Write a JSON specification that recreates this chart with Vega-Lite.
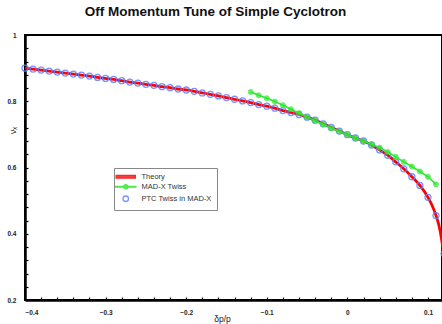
{
  "$schema": "https://vega.github.io/schema/vega-lite/v6.json",
  "width": 417,
  "height": 265,
  "autosize": {"type": "none"},
  "padding": {"left": 25, "top": 35, "right": 0, "bottom": 24},
  "background": "white",
  "title": {"text": "Off Momentum Tune of Simple Cyclotron", "font": "Liberation Sans", "fontSize": 13.5, "fontWeight": "bold", "color": "#111", "anchor": "middle", "frame": "group", "dx": -18, "offset": 14},
  "datasets": {
    "theory": [
      {"dp": -0.40, "nu": 0.900, "series": "Theory"},
      {"dp": -0.39, "nu": 0.897, "series": "Theory"},
      {"dp": -0.38, "nu": 0.894, "series": "Theory"},
      {"dp": -0.37, "nu": 0.891, "series": "Theory"},
      {"dp": -0.36, "nu": 0.888, "series": "Theory"},
      {"dp": -0.35, "nu": 0.885, "series": "Theory"},
      {"dp": -0.34, "nu": 0.882, "series": "Theory"},
      {"dp": -0.33, "nu": 0.879, "series": "Theory"},
      {"dp": -0.32, "nu": 0.876, "series": "Theory"},
      {"dp": -0.31, "nu": 0.872, "series": "Theory"},
      {"dp": -0.30, "nu": 0.869, "series": "Theory"},
      {"dp": -0.29, "nu": 0.866, "series": "Theory"},
      {"dp": -0.28, "nu": 0.862, "series": "Theory"},
      {"dp": -0.27, "nu": 0.858, "series": "Theory"},
      {"dp": -0.26, "nu": 0.855, "series": "Theory"},
      {"dp": -0.25, "nu": 0.851, "series": "Theory"},
      {"dp": -0.24, "nu": 0.848, "series": "Theory"},
      {"dp": -0.23, "nu": 0.844, "series": "Theory"},
      {"dp": -0.22, "nu": 0.841, "series": "Theory"},
      {"dp": -0.21, "nu": 0.837, "series": "Theory"},
      {"dp": -0.20, "nu": 0.834, "series": "Theory"},
      {"dp": -0.19, "nu": 0.830, "series": "Theory"},
      {"dp": -0.18, "nu": 0.825, "series": "Theory"},
      {"dp": -0.17, "nu": 0.821, "series": "Theory"},
      {"dp": -0.16, "nu": 0.816, "series": "Theory"},
      {"dp": -0.15, "nu": 0.811, "series": "Theory"},
      {"dp": -0.14, "nu": 0.806, "series": "Theory"},
      {"dp": -0.13, "nu": 0.801, "series": "Theory"},
      {"dp": -0.12, "nu": 0.796, "series": "Theory"},
      {"dp": -0.11, "nu": 0.790, "series": "Theory"},
      {"dp": -0.10, "nu": 0.785, "series": "Theory"},
      {"dp": -0.09, "nu": 0.779, "series": "Theory"},
      {"dp": -0.08, "nu": 0.772, "series": "Theory"},
      {"dp": -0.07, "nu": 0.766, "series": "Theory"},
      {"dp": -0.06, "nu": 0.760, "series": "Theory"},
      {"dp": -0.05, "nu": 0.752, "series": "Theory"},
      {"dp": -0.04, "nu": 0.743, "series": "Theory"},
      {"dp": -0.03, "nu": 0.732, "series": "Theory"},
      {"dp": -0.02, "nu": 0.721, "series": "Theory"},
      {"dp": -0.01, "nu": 0.710, "series": "Theory"},
      {"dp": 0.00, "nu": 0.699, "series": "Theory"},
      {"dp": 0.01, "nu": 0.689, "series": "Theory"},
      {"dp": 0.02, "nu": 0.680, "series": "Theory"},
      {"dp": 0.03, "nu": 0.668, "series": "Theory"},
      {"dp": 0.04, "nu": 0.653, "series": "Theory"},
      {"dp": 0.05, "nu": 0.637, "series": "Theory"},
      {"dp": 0.06, "nu": 0.617, "series": "Theory"},
      {"dp": 0.07, "nu": 0.596, "series": "Theory"},
      {"dp": 0.08, "nu": 0.572, "series": "Theory"},
      {"dp": 0.09, "nu": 0.546, "series": "Theory"},
      {"dp": 0.10, "nu": 0.510, "series": "Theory"},
      {"dp": 0.105, "nu": 0.486, "series": "Theory"},
      {"dp": 0.11, "nu": 0.455, "series": "Theory"},
      {"dp": 0.115, "nu": 0.410, "series": "Theory"},
      {"dp": 0.12, "nu": 0.330, "series": "Theory"}
    ],
    "ptc": [
      {"dp": -0.40, "nu": 0.900, "series": "PTC Twiss in MAD-X"},
      {"dp": -0.39, "nu": 0.897, "series": "PTC Twiss in MAD-X"},
      {"dp": -0.38, "nu": 0.894, "series": "PTC Twiss in MAD-X"},
      {"dp": -0.37, "nu": 0.891, "series": "PTC Twiss in MAD-X"},
      {"dp": -0.36, "nu": 0.888, "series": "PTC Twiss in MAD-X"},
      {"dp": -0.35, "nu": 0.885, "series": "PTC Twiss in MAD-X"},
      {"dp": -0.34, "nu": 0.882, "series": "PTC Twiss in MAD-X"},
      {"dp": -0.33, "nu": 0.879, "series": "PTC Twiss in MAD-X"},
      {"dp": -0.32, "nu": 0.876, "series": "PTC Twiss in MAD-X"},
      {"dp": -0.31, "nu": 0.872, "series": "PTC Twiss in MAD-X"},
      {"dp": -0.30, "nu": 0.869, "series": "PTC Twiss in MAD-X"},
      {"dp": -0.29, "nu": 0.866, "series": "PTC Twiss in MAD-X"},
      {"dp": -0.28, "nu": 0.862, "series": "PTC Twiss in MAD-X"},
      {"dp": -0.27, "nu": 0.858, "series": "PTC Twiss in MAD-X"},
      {"dp": -0.26, "nu": 0.855, "series": "PTC Twiss in MAD-X"},
      {"dp": -0.25, "nu": 0.851, "series": "PTC Twiss in MAD-X"},
      {"dp": -0.24, "nu": 0.848, "series": "PTC Twiss in MAD-X"},
      {"dp": -0.23, "nu": 0.844, "series": "PTC Twiss in MAD-X"},
      {"dp": -0.22, "nu": 0.841, "series": "PTC Twiss in MAD-X"},
      {"dp": -0.21, "nu": 0.837, "series": "PTC Twiss in MAD-X"},
      {"dp": -0.20, "nu": 0.834, "series": "PTC Twiss in MAD-X"},
      {"dp": -0.19, "nu": 0.830, "series": "PTC Twiss in MAD-X"},
      {"dp": -0.18, "nu": 0.825, "series": "PTC Twiss in MAD-X"},
      {"dp": -0.17, "nu": 0.821, "series": "PTC Twiss in MAD-X"},
      {"dp": -0.16, "nu": 0.816, "series": "PTC Twiss in MAD-X"},
      {"dp": -0.15, "nu": 0.811, "series": "PTC Twiss in MAD-X"},
      {"dp": -0.14, "nu": 0.806, "series": "PTC Twiss in MAD-X"},
      {"dp": -0.13, "nu": 0.801, "series": "PTC Twiss in MAD-X"},
      {"dp": -0.12, "nu": 0.796, "series": "PTC Twiss in MAD-X"},
      {"dp": -0.11, "nu": 0.790, "series": "PTC Twiss in MAD-X"},
      {"dp": -0.10, "nu": 0.785, "series": "PTC Twiss in MAD-X"},
      {"dp": -0.09, "nu": 0.779, "series": "PTC Twiss in MAD-X"},
      {"dp": -0.08, "nu": 0.772, "series": "PTC Twiss in MAD-X"},
      {"dp": -0.07, "nu": 0.766, "series": "PTC Twiss in MAD-X"},
      {"dp": -0.06, "nu": 0.760, "series": "PTC Twiss in MAD-X"},
      {"dp": -0.05, "nu": 0.752, "series": "PTC Twiss in MAD-X"},
      {"dp": -0.04, "nu": 0.743, "series": "PTC Twiss in MAD-X"},
      {"dp": -0.03, "nu": 0.732, "series": "PTC Twiss in MAD-X"},
      {"dp": -0.02, "nu": 0.721, "series": "PTC Twiss in MAD-X"},
      {"dp": -0.01, "nu": 0.710, "series": "PTC Twiss in MAD-X"},
      {"dp": 0.00, "nu": 0.699, "series": "PTC Twiss in MAD-X"},
      {"dp": 0.01, "nu": 0.689, "series": "PTC Twiss in MAD-X"},
      {"dp": 0.02, "nu": 0.680, "series": "PTC Twiss in MAD-X"},
      {"dp": 0.03, "nu": 0.668, "series": "PTC Twiss in MAD-X"},
      {"dp": 0.04, "nu": 0.653, "series": "PTC Twiss in MAD-X"},
      {"dp": 0.05, "nu": 0.637, "series": "PTC Twiss in MAD-X"},
      {"dp": 0.06, "nu": 0.617, "series": "PTC Twiss in MAD-X"},
      {"dp": 0.07, "nu": 0.596, "series": "PTC Twiss in MAD-X"},
      {"dp": 0.08, "nu": 0.572, "series": "PTC Twiss in MAD-X"},
      {"dp": 0.09, "nu": 0.546, "series": "PTC Twiss in MAD-X"},
      {"dp": 0.10, "nu": 0.510, "series": "PTC Twiss in MAD-X"},
      {"dp": 0.11, "nu": 0.455, "series": "PTC Twiss in MAD-X"},
      {"dp": 0.12, "nu": 0.340, "series": "PTC Twiss in MAD-X"}
    ],
    "madx": [
      {"dp": -0.12, "nu": 0.828, "series": "MAD-X Twiss"},
      {"dp": -0.11, "nu": 0.818, "series": "MAD-X Twiss"},
      {"dp": -0.10, "nu": 0.809, "series": "MAD-X Twiss"},
      {"dp": -0.09, "nu": 0.799, "series": "MAD-X Twiss"},
      {"dp": -0.08, "nu": 0.788, "series": "MAD-X Twiss"},
      {"dp": -0.07, "nu": 0.776, "series": "MAD-X Twiss"},
      {"dp": -0.06, "nu": 0.764, "series": "MAD-X Twiss"},
      {"dp": -0.05, "nu": 0.752, "series": "MAD-X Twiss"},
      {"dp": -0.04, "nu": 0.741, "series": "MAD-X Twiss"},
      {"dp": -0.03, "nu": 0.730, "series": "MAD-X Twiss"},
      {"dp": -0.02, "nu": 0.719, "series": "MAD-X Twiss"},
      {"dp": -0.01, "nu": 0.709, "series": "MAD-X Twiss"},
      {"dp": 0.00, "nu": 0.699, "series": "MAD-X Twiss"},
      {"dp": 0.01, "nu": 0.689, "series": "MAD-X Twiss"},
      {"dp": 0.02, "nu": 0.679, "series": "MAD-X Twiss"},
      {"dp": 0.03, "nu": 0.670, "series": "MAD-X Twiss"},
      {"dp": 0.04, "nu": 0.660, "series": "MAD-X Twiss"},
      {"dp": 0.05, "nu": 0.647, "series": "MAD-X Twiss"},
      {"dp": 0.06, "nu": 0.632, "series": "MAD-X Twiss"},
      {"dp": 0.07, "nu": 0.617, "series": "MAD-X Twiss"},
      {"dp": 0.08, "nu": 0.603, "series": "MAD-X Twiss"},
      {"dp": 0.09, "nu": 0.588, "series": "MAD-X Twiss"},
      {"dp": 0.10, "nu": 0.572, "series": "MAD-X Twiss"},
      {"dp": 0.11, "nu": 0.549, "series": "MAD-X Twiss"}
    ]
  },
  "encoding": {
    "x": {
      "field": "dp", "type": "quantitative",
      "scale": {"domain": [-0.4, 0.1174], "nice": false, "zero": false},
      "axis": {
        "values": [-0.4, -0.38, -0.36, -0.34, -0.32, -0.3, -0.28, -0.26, -0.24, -0.22, -0.2, -0.18, -0.16, -0.14, -0.12, -0.1, -0.08, -0.06, -0.04, -0.02, 0, 0.02, 0.04, 0.06, 0.08, 0.1],
        "labelExpr": "abs(datum.value*10 - round(datum.value*10)) < 0.001 ? format(datum.value, '~g') : ''",
        "labelOverlap": false,
        "labelPadding": 12,
        "title": "δp/p",
        "titleFontSize": 8.5,
        "titleX": 197,
        "titleY": 21,
        "titleBaseline": "alphabetic",
        "titleAlign": "center"
      }
    },
    "y": {
      "field": "nu", "type": "quantitative",
      "scale": {"domain": [0.2, 1], "nice": false, "zero": false},
      "axis": {
        "values": [0.2, 0.24, 0.28, 0.32, 0.36, 0.4, 0.44, 0.48, 0.52, 0.56, 0.6, 0.64, 0.68, 0.72, 0.76, 0.8, 0.84, 0.88, 0.92, 0.96, 1],
        "labelExpr": "abs(datum.value*5 - round(datum.value*5)) < 0.001 ? format(datum.value, '~g') : ''",
        "labelOverlap": false,
        "labelPadding": 12,
        "title": "νₓ",
        "titleFontSize": 8.5,
        "titleAngle": -90,
        "titleX": -13,
        "titleY": 95,
        "titleAlign": "center",
        "titleBaseline": "middle"
      }
    }
  },
  "layer": [
    {
      "data": {"name": "theory"},
      "mark": {"type": "line", "strokeWidth": 2.8, "interpolate": "monotone"},
      "encoding": {
        "stroke": {
          "field": "series", "type": "nominal",
          "scale": {"domain": ["Theory", "MAD-X Twiss", "PTC Twiss in MAD-X"], "range": ["#ff0000", "#2ee82e", "#5f82ff"]},
          "legend": {"title": null, "orient": "none", "legendX": 89, "legendY": 133}
        }
      }
    },
    {
      "data": {"name": "ptc"},
      "mark": {"type": "point", "size": 36, "strokeWidth": 1.3, "opacity": 0.85},
      "encoding": {
        "stroke": {"field": "series", "type": "nominal"},
        "fill": {
          "field": "series", "type": "nominal",
          "scale": {"domain": ["Theory", "MAD-X Twiss", "PTC Twiss in MAD-X"], "range": ["#ff0000", "#2ee82e", "transparent"]}
        },
        "shape": {
          "field": "series", "type": "nominal",
          "scale": {"domain": ["Theory", "MAD-X Twiss", "PTC Twiss in MAD-X"], "range": ["M-3.5,-0.45H3.5V0.45H-3.5Z", "M-3.7,-0.15H3.7V0.15H-3.7Z M-0.75,0A0.75,0.75 0 1,0 0.75,0A0.75,0.75 0 1,0 -0.75,0Z", "circle"]}
        }
      }
    },
    {
      "data": {"name": "madx"},
      "mark": {"type": "line", "strokeWidth": 1.6},
      "encoding": {
        "stroke": {"field": "series", "type": "nominal"}
      }
    },
    {
      "data": {"name": "madx"},
      "mark": {"type": "point", "shape": "circle", "size": 26, "strokeWidth": 1},
      "encoding": {
        "stroke": {"field": "series", "type": "nominal"},
        "fill": {"field": "series", "type": "nominal"}
      }
    }
  ],
  "config": {
    "view": {"stroke": "black", "strokeWidth": 2},
    "axis": {
      "grid": false,
      "labelFont": "Liberation Sans",
      "labelFontSize": 6.5,
      "labelFontWeight": "bold",
      "labelColor": "#222",
      "titleFont": "Liberation Sans",
      "titleFontWeight": "normal",
      "titleColor": "#222",
      "domainColor": "black",
      "domainWidth": 2.5,
      "tickColor": "black",
      "tickWidth": 1.2,
      "tickSize": -3
    },
    "legend": {
      "symbolSize": 30,
      "symbolStrokeWidth": 1.3,
      "labelFont": "Liberation Sans",
      "labelFontSize": 7.5,
      "labelColor": "#333",
      "padding": 5,
      "strokeColor": "#888",
      "fillColor": "white",
      "rowPadding": 1,
      "labelOffset": 12,
      "symbolOffset": 3
    }
  }
}
